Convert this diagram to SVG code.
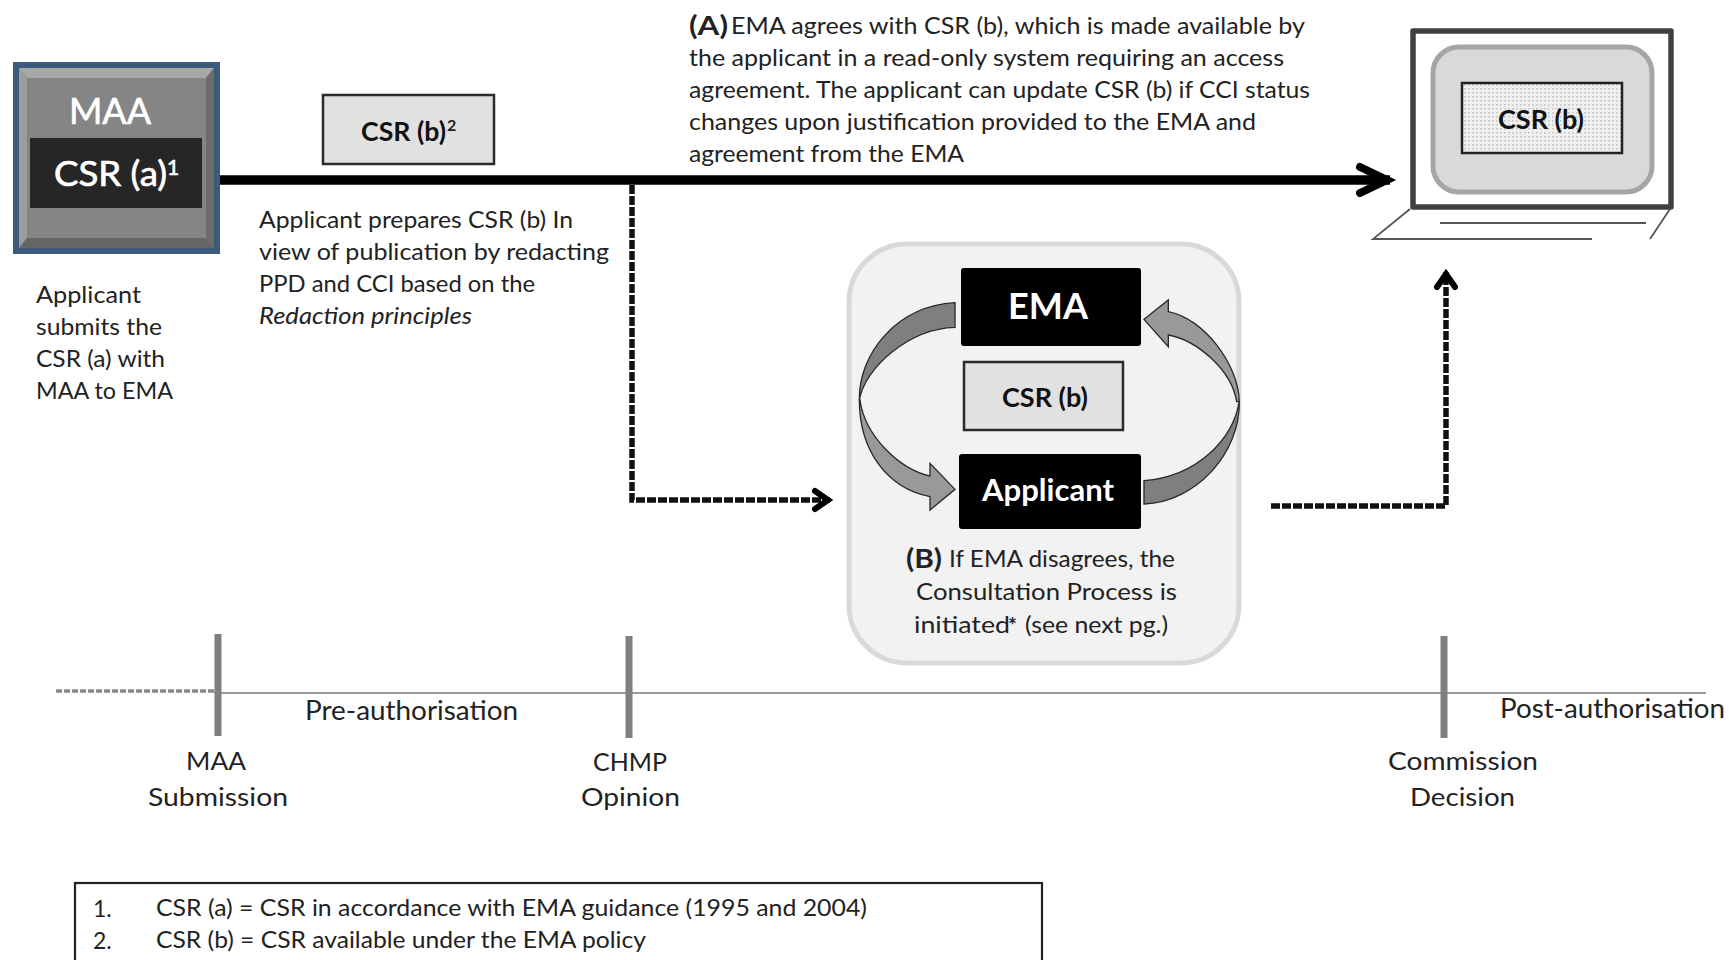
<svg xmlns="http://www.w3.org/2000/svg" width="1729" height="960" viewBox="0 0 1729 960">
<style>
text{font-family:Lato,"Liberation Sans",sans-serif;fill:#222;font-size:23px}
.b{font-weight:700}
.box{fill:#e1e1e1;stroke:#2b2b2b;stroke-width:2.5}
.csr{font-weight:700;font-size:26px;fill:#111}
.blk{fill:#000}
.w{fill:#fff;font-weight:700}
.tick{stroke:#7f7f7f;stroke-width:7;fill:none}
.dash{fill:none;stroke:#111;stroke-width:5.5;stroke-dasharray:9 2}
.rib{stroke:#2a2a2a;stroke-width:4;stroke-linejoin:miter}
.head{fill:none;stroke:#000;stroke-linecap:round;stroke-linejoin:miter}
.wm{fill:#fff;stroke:#fff;stroke-width:.7}
</style>
<defs>
<marker id="bigHead" markerUnits="userSpaceOnUse" markerWidth="44" markerHeight="44" refX="36" refY="20" orient="auto" overflow="visible"><path class="head" stroke-width="8" d="M6 7 L33 20 L6 33"/></marker>
<marker id="smallHead" markerUnits="userSpaceOnUse" markerWidth="30" markerHeight="30" refX="22" refY="14" orient="auto" overflow="visible"><path class="head" stroke-width="6" d="M7 5 L20 14 L7 23"/></marker>
<pattern id="dots" width="4" height="4" patternUnits="userSpaceOnUse"><rect width="4" height="4" fill="#efefef"/><rect width="1.6" height="1.6" fill="#c4c4c4"/></pattern>
</defs>
<rect width="1729" height="960" fill="#fff"/>

<g id="timeline">
<path d="M56 691H214" fill="none" stroke="#888" stroke-width="3.5" stroke-dasharray="6 2"/>
<path d="M214 693H1706" fill="none" stroke="#999" stroke-width="2"/>
<path class="tick" d="M218 634V736M629 636V738M1444 636V738"/>
<text x="305" y="720" textLength="213" lengthAdjust="spacingAndGlyphs" style="font-size:26px">Pre-authorisation</text>
<text x="1500" y="718" textLength="225" lengthAdjust="spacingAndGlyphs" style="font-size:26px">Post-authorisation</text>
<text x="186" y="770" textLength="60" lengthAdjust="spacingAndGlyphs" style="font-size:25px">MAA</text>
<text x="148" y="806" textLength="140" lengthAdjust="spacingAndGlyphs" style="font-size:25px">Submission</text>
<text x="593" y="771" textLength="74" lengthAdjust="spacingAndGlyphs" style="font-size:25px">CHMP</text>
<text x="581" y="806" textLength="99" lengthAdjust="spacingAndGlyphs" style="font-size:25px">Opinion</text>
<text x="1388" y="770" textLength="150" lengthAdjust="spacingAndGlyphs" style="font-size:25px">Commission</text>
<text x="1410" y="806" textLength="105" lengthAdjust="spacingAndGlyphs" style="font-size:25px">Decision</text>
</g>

<g id="connectors">
<path d="M220 180H1390" fill="none" stroke="#000" stroke-width="9.5" marker-end="url(#bigHead)"/>
<path class="dash" d="M632 185V500H830" marker-end="url(#smallHead)"/>
<path class="dash" d="M1271 506H1446V272" marker-end="url(#smallHead)"/>
</g>

<g id="maa">
<rect x="13" y="62" width="207" height="192" fill="#3c5a7c"/>
<rect x="19" y="68" width="195" height="180" fill="#858585"/>
<path d="M19 68H214L206 78H27Z" fill="#a8a8a8"/>
<path d="M19 68L27 78V238L19 248Z" fill="#9c9c9c"/>
<path d="M214 68L206 78V238L214 248Z" fill="#6c6c6c"/>
<path d="M19 248L27 238H206L214 248Z" fill="#666"/>
<rect x="30" y="138" width="172" height="70" fill="#262626"/>
<text class="wm" x="69" y="124" textLength="82" lengthAdjust="spacingAndGlyphs" style="font-size:36px">MAA</text>
<text class="wm" x="54" y="186" textLength="113" lengthAdjust="spacingAndGlyphs" style="font-size:34px">CSR (a)</text>
<text class="wm" x="167" y="175" style="font-size:21px">1</text>
</g>

<g id="csr-b2">
<rect class="box" x="323" y="95" width="171" height="69"/>
<text class="csr" x="361" y="141" textLength="85" lengthAdjust="spacingAndGlyphs">CSR (b)</text>
<text class="b" x="447" y="131" style="font-size:16px">2</text>
</g>

<g id="label-applicant-submits">
<text x="36" y="303" textLength="105" lengthAdjust="spacingAndGlyphs">Applicant</text>
<text x="36" y="335" textLength="126" lengthAdjust="spacingAndGlyphs">submits the</text>
<text x="36" y="367" textLength="129" lengthAdjust="spacingAndGlyphs">CSR (a) with</text>
<text x="36" y="399" textLength="137" lengthAdjust="spacingAndGlyphs">MAA to EMA</text>
</g>

<g id="label-applicant-prepares">
<text x="259" y="228" textLength="314" lengthAdjust="spacingAndGlyphs">Applicant prepares CSR (b) In</text>
<text x="259" y="260" textLength="350" lengthAdjust="spacingAndGlyphs">view of publication by redacting</text>
<text x="259" y="292" textLength="276" lengthAdjust="spacingAndGlyphs">PPD and CCI based on the</text>
<text x="259" y="324" textLength="213" lengthAdjust="spacingAndGlyphs" font-style="italic">Redaction principles</text>
</g>

<g id="label-a">
<text class="b" x="689" y="35" textLength="39" lengthAdjust="spacingAndGlyphs" style="font-size:26px">(A)</text>
<text x="731" y="34" textLength="574" lengthAdjust="spacingAndGlyphs">EMA agrees with CSR (b), which is made available by</text>
<text x="689" y="66" textLength="595" lengthAdjust="spacingAndGlyphs">the applicant in a read-only system requiring an access</text>
<text x="689" y="98" textLength="621" lengthAdjust="spacingAndGlyphs">agreement. The applicant can update CSR (b) if CCI status</text>
<text x="689" y="130" textLength="567" lengthAdjust="spacingAndGlyphs">changes upon justification provided to the EMA and</text>
<text x="689" y="162" textLength="275" lengthAdjust="spacingAndGlyphs">agreement from the EMA</text>
</g>

<g id="laptop">
<rect x="1413" y="31" width="258" height="176" fill="#fff" stroke="#404040" stroke-width="5.5" stroke-linejoin="round"/>
<rect x="1433" y="47" width="219" height="145" rx="26" fill="#d9d9d9" stroke="#a6a6a6" stroke-width="5"/>
<rect x="1462" y="83" width="160" height="70" fill="url(#dots)" stroke="#222" stroke-width="2.5"/>
<text class="csr" x="1498" y="129" textLength="86" lengthAdjust="spacingAndGlyphs">CSR (b)</text>
<path d="M1410 209L1373 239H1592M1440 223H1646M1670 209L1650 239" fill="none" stroke="#555" stroke-width="1.8"/>
</g>

<g id="consultation">
<rect x="849" y="244" width="390" height="419" rx="58" fill="#f2f2f2" stroke="#d9d9d9" stroke-width="5"/>
<g id="cycle-arrows" transform="translate(820 220) scale(.33333)">
<path class="rib" fill="#7f7f7f" d="M405 248C230 258 116 400 118 540C135 440 270 326 405 322Z"/>
<path class="rib" fill="#999" d="M118 540C118 690 200 805 330 830L330 870L405 808L330 730L330 768C240 748 135 650 120 540Z"/>
<path class="rib" fill="#7f7f7f" d="M972 852C1130 845 1260 700 1258 545C1238 660 1130 770 972 782Z"/>
<path class="rib" fill="#999" d="M1258 545C1255 430 1150 295 1045 275L1045 240L972 298L1045 380L1045 345C1130 360 1235 450 1250 545Z"/>
</g>
<rect class="blk" x="961" y="268" width="180" height="78" rx="3"/>
<text class="w" x="1008" y="319" textLength="80" lengthAdjust="spacingAndGlyphs" style="font-size:37px">EMA</text>
<rect class="box" x="964" y="362" width="159" height="68"/>
<text class="csr" x="1002" y="407" textLength="86" lengthAdjust="spacingAndGlyphs">CSR (b)</text>
<rect class="blk" x="959" y="454" width="182" height="75" rx="3"/>
<text class="w" x="982" y="501" textLength="132" lengthAdjust="spacingAndGlyphs" style="font-size:31px">Applicant</text>
<text class="b" x="906" y="568" textLength="36" lengthAdjust="spacingAndGlyphs" style="font-size:26px">(B)</text>
<text x="949" y="567" textLength="226" lengthAdjust="spacingAndGlyphs">If EMA disagrees, the</text>
<text x="916" y="600" textLength="261" lengthAdjust="spacingAndGlyphs">Consultation Process is</text>
<text x="914" y="633" textLength="96" lengthAdjust="spacingAndGlyphs">initiated</text>
<text class="b" x="1008" y="633" style="font-size:21px">*</text>
<text x="1025" y="633" textLength="143" lengthAdjust="spacingAndGlyphs">(see next pg.)</text>
</g>

<g id="legend">
<rect x="75" y="883" width="967" height="90" fill="#fff" stroke="#222" stroke-width="2.2"/>
<text x="93" y="917">1.</text>
<text x="156" y="916" textLength="711" lengthAdjust="spacingAndGlyphs">CSR (a) = CSR in accordance with EMA guidance (1995 and 2004)</text>
<text x="93" y="949">2.</text>
<text x="156" y="948" textLength="490" lengthAdjust="spacingAndGlyphs">CSR (b) = CSR available under the EMA policy</text>
</g>
</svg>
